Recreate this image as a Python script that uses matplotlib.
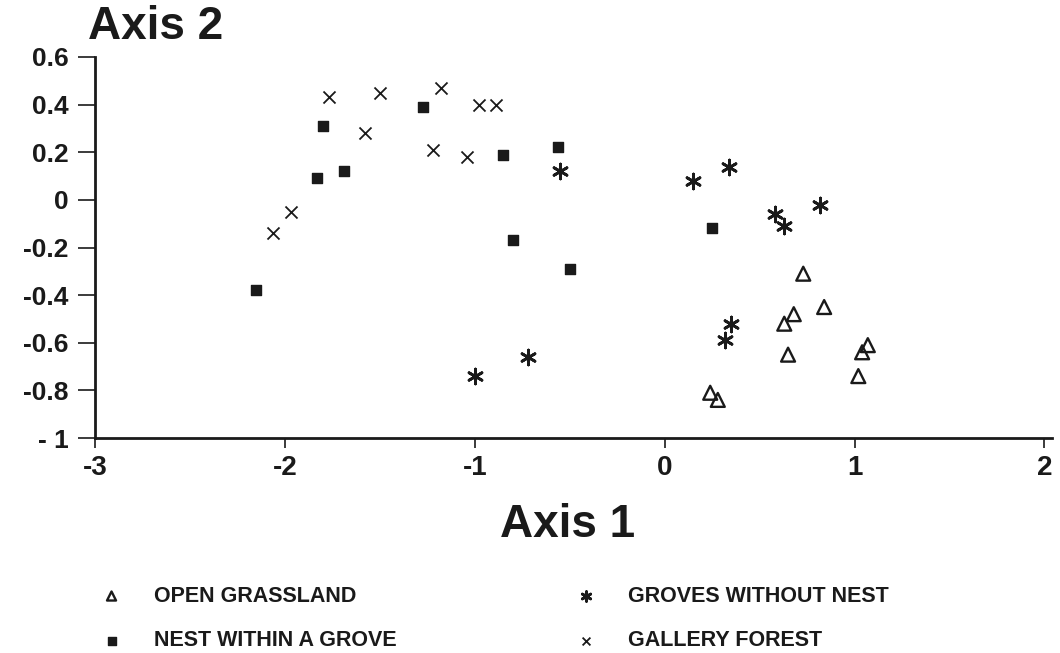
import matplotlib
matplotlib.use("Agg")
import matplotlib.pyplot as plt

plt.rcParams['font.family'] = ['Liberation Sans', 'DejaVu Sans']
plt.rcParams['font.weight'] = 'bold'
plt.rcParams['axes.unicode_minus'] = False

# open grassland (triangles)
og_x = [0.73, 0.84, 0.68, 0.63, 0.65, 1.07, 1.04, 1.02, 0.24, 0.28]
og_y = [-0.31, -0.45, -0.48, -0.52, -0.65, -0.61, -0.64, -0.74, -0.81, -0.84]

# nest within a grove (filled squares)
nest_x = [-2.15, -1.80, -1.83, -1.69, -1.27, -0.85, -0.56, -0.80, -0.50, 0.25]
nest_y = [-0.38, 0.31, 0.09, 0.12, 0.39, 0.19, 0.22, -0.17, -0.29, -0.12]

# groves without nest (asterisks)
gwn_x = [-0.55, 0.15, 0.34, 0.82, 0.58, 0.63, 0.35, 0.32, -0.72, -1.00]
gwn_y = [0.12, 0.08, 0.14, -0.02, -0.06, -0.11, -0.52, -0.59, -0.66, -0.74]

# gallery forest (crosses)
gal_x = [-2.06, -1.97, -1.77, -1.50, -1.18, -0.98, -0.89, -1.58, -1.22, -1.04]
gal_y = [-0.14, -0.05, 0.43, 0.45, 0.47, 0.40, 0.40, 0.28, 0.21, 0.18]

x_ticks = [-3, -2, -1, 0, 1, 2]
y_ticks = [0.6, 0.4, 0.2, 0, -0.2, -0.4, -0.6, -0.8, -1]
y_labels = ['0.6', '0.4', '0.2', '0', '-0.2', '-0.4', '-0.6', '-0.8', '- 1']

W, H = 1060, 653
fig = plt.figure(figsize=(W / 100, H / 100), dpi=100)
ax = fig.add_axes([95 / W, 1 - 438 / H, (1052 - 95) / W, (438 - 57) / H])

ink = '#1a1a1a'
h1 = ax.scatter(og_x, og_y, marker='^', s=100, facecolors='none', edgecolors=ink, linewidths=1.7)
h2 = ax.scatter(nest_x, nest_y, marker='s', s=62, color=ink)
h3 = ax.scatter(gwn_x, gwn_y, marker=(6, 2, 0), s=115, color=ink, linewidths=2)
h4 = ax.scatter(gal_x, gal_y, marker='x', s=75, color=ink, linewidths=1.3)

ax.set_xlim(-3, 2.04)
ax.set_ylim(-1, 0.6)
ax.set_xticks(x_ticks)
ax.set_xticklabels([str(t) for t in x_ticks])
ax.set_yticks(y_ticks)
ax.set_yticklabels(y_labels)

for s in ['top', 'right']:
    ax.spines[s].set_visible(False)
for s in ['left', 'bottom']:
    ax.spines[s].set_linewidth(2)
    ax.spines[s].set_color(ink)

ax.tick_params(axis='y', length=12, width=1.2, pad=7, labelsize=19, colors=ink)
ax.tick_params(axis='x', length=7, width=1.2, pad=5, labelsize=20, colors=ink)

fig.text(88 / W, 1 - 5 / H, 'Axis 2', ha='left', va='top', fontsize=33, fontweight='bold', color=ink)
fig.text(568 / W, 1 - 525 / H, 'Axis 1', ha='center', va='center', fontsize=33, fontweight='bold', color=ink)

# legend: two columns placed separately
leg_kw = dict(frameon=False, loc='center left', borderpad=0, borderaxespad=0,
              prop={'size': 15.5, 'weight': 'bold'}, markerscale=0.65,
              handlelength=2.0, handletextpad=0.95, labelspacing=1.1)
leg1 = fig.legend([h1, h2], ['OPEN GRASSLAND', 'NEST WITHIN A GROVE'],
                  bbox_to_anchor=(90 / W, 1 - 618.5 / H), **leg_kw)
leg2 = fig.legend([h3, h4], ['GROVES WITHOUT NEST', 'GALLERY FOREST'],
                  bbox_to_anchor=(564 / W, 1 - 618.5 / H), **leg_kw)
for leg in (leg1, leg2):
    for t in leg.get_texts():
        t.set_color(ink)

fig.savefig('out.png', dpi=100, facecolor='white')
